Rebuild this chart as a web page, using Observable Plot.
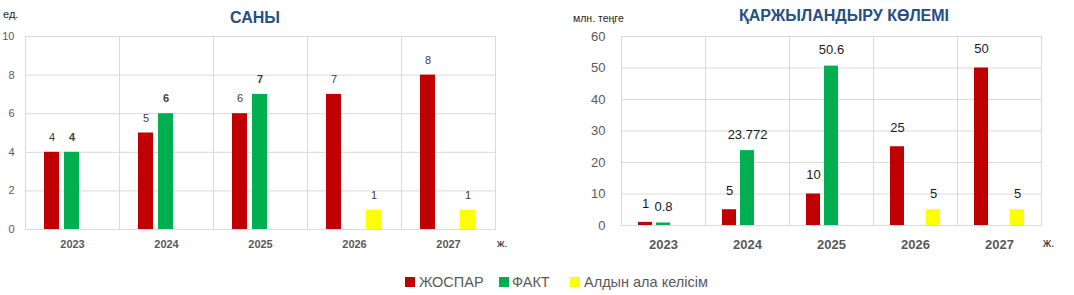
<!DOCTYPE html>
<html><head><meta charset="utf-8">
<script src="https://cdn.jsdelivr.net/npm/d3@7"></script>
<script src="https://cdn.jsdelivr.net/npm/@observablehq/plot@0.6"></script>
<style>
body{margin:0;background:#fff;font-family:"Liberation Sans",Arial,sans-serif;}
#wrap{position:relative;width:1074px;height:295px;overflow:hidden;background:#fff}
.abs{position:absolute;white-space:nowrap;line-height:1}
.title{font-weight:bold;font-size:16px;color:#264f82}
.unit{font-size:11px;color:#262626}
.leg{position:absolute;top:274px;left:0;width:1074px;font-size:14.5px;color:#595959}
.sw{position:absolute;width:10px;height:10px;top:3px}
.lt{position:absolute;top:0}
</style></head>
<body><div id="wrap">
  <div class="abs title" style="left:230px;top:10px">САНЫ</div>
  <div class="abs unit" style="left:3px;top:9px">ед.</div>
  <div class="abs unit" style="left:497px;top:238px">ж.</div>
  <div class="abs title" style="left:739px;top:8px">ҚАРЖЫЛАНДЫРУ КӨЛЕМІ</div>
  <div class="abs unit" style="left:573px;top:13px;font-size:10.5px">млн. теңге</div>
  <div class="abs unit" style="left:1043px;top:237px;font-size:12px">ж.</div>
  <div id="left" class="abs" style="left:0;top:0"></div>
  <div id="right" class="abs" style="left:540px;top:0"></div>
  <div class="leg" id="legend"></div>
</div>
<script>
const years = ["2023", "2024", "2025", "2026", "2027"];
const series = ["ЖОСПАР", "ФАКТ", "Алдын ала келісім"];
const colors = ["#C00000", "#00B050", "#FFFF00"];
const countPlan = [4, 5, 6, 7, 8];
const countFact = [4, 6, 7, null, null];
const countPrelim = [null, null, null, 1, 1];
const fundPlan = [1, 5, 10, 25, 50];
const fundFact = [0.8, 23.772, 50.6, null, null];
const fundPrelim = [null, null, null, 5, 5];
const countTicks = [0, 2, 4, 6, 8, 10];
const fundTicks = [0, 10, 20, 30, 40, 50, 60];

function rows(a, b, c) {
  const out = [];
  [a, b, c].forEach((arr, si) => arr.forEach((v, i) => {
    if (v != null) out.push({year: years[i], series: series[si], value: v});
  }));
  return out;
}

function chart(data, opt) {
  const bySeries = s => data.filter(d => d.series === s);
  return Plot.plot({
    width: opt.width, height: opt.height,
    marginLeft: opt.ml, marginRight: opt.mr, marginTop: 36, marginBottom: opt.mb,
    style: {fontFamily: "'Liberation Sans', Arial, sans-serif", background: "transparent"},
    fx: {domain: years, padding: 0, label: null},
    x: {domain: series, paddingInner: 0.24, paddingOuter: 0.86, axis: null},
    y: {domain: opt.ydomain, label: null},
    color: {domain: series, range: colors},
    marks: [
      Plot.gridY({ticks: opt.ticks, stroke: "#d9d9d9", strokeOpacity: 1}),
      Plot.frame({stroke: "#d9d9d9"}),
      Plot.barY(data, {fx: "year", x: "series", y: "value", fill: "series"}),
      Plot.text(bySeries(series[0]), {fx: "year", x: "series", y: "value", text: d => String(d.value), dy: -opt.dyPlan, fontSize: opt.lfs, fill: opt.lcol}),
      Plot.text(bySeries(series[1]), {fx: "year", x: "series", y: "value", text: d => String(d.value), dy: -opt.dy, fontSize: opt.lfs, fill: opt.lcol, fontWeight: opt.factBold ? "bold" : "normal"}),
      Plot.text(bySeries(series[2]), {fx: "year", x: "series", y: "value", text: d => String(d.value), dy: -opt.dy, fontSize: opt.lfs, fill: opt.lcol}),
      Plot.axisY({ticks: opt.ticks, tickSize: 0, tickPadding: opt.ytp, fontSize: opt.afs, fill: "#595959", label: null}),
      Plot.axisFx({anchor: "bottom", tickSize: 0, tickPadding: opt.xtp, fontSize: opt.afs, fontWeight: "bold", fill: "#595959", label: null})
    ]
  });
}

document.getElementById("left").appendChild(chart(rows(countPlan, countFact, countPrelim), {
  width: 540, height: 262, ml: 25, mr: 45, mb: 33, ydomain: [0, 10], ticks: countTicks,
  dy: 15, dyPlan: 15, lfs: 11, lcol: "#404040", factBold: true, ytp: 11, xtp: 11, afs: 11
}));
document.getElementById("right").appendChild(chart(rows(fundPlan, fundFact, fundPrelim), {
  width: 534, height: 262, ml: 79, mr: 31, mb: 37, ydomain: [0, 60], ticks: fundTicks,
  dy: 16, dyPlan: 19, lfs: 13, lcol: "#1a1a1a", factBold: false, ytp: 16, xtp: 14, afs: 13
}));

const leg = document.getElementById("legend");
const legPos = [[405, 419], [499, 512], [570, 584]];
series.forEach((s, i) => {
  const sw = document.createElement("div");
  sw.className = "sw"; sw.style.left = legPos[i][0] + "px"; sw.style.background = colors[i];
  const t = document.createElement("div");
  t.className = "lt"; t.style.left = legPos[i][1] + "px"; t.textContent = s;
  leg.appendChild(sw); leg.appendChild(t);
});
</script>
</body></html>
